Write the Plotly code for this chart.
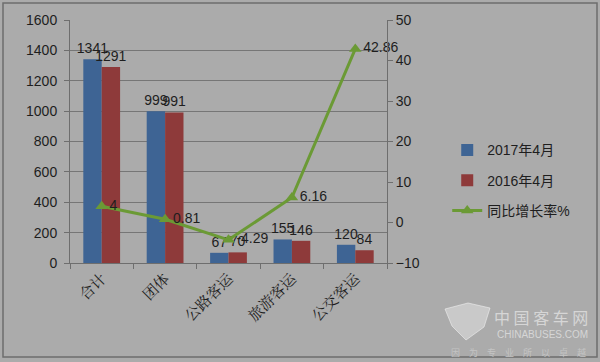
import plotly.graph_objects as go

categories = ["合计", "团体", "公路客运", "旅游客运", "公交客运"]
sales_2017 = [1341, 999, 67, 155, 120]
sales_2016 = [1291, 991, 70, 146, 84]
growth = [4, 0.81, -4.29, 6.16, 42.86]
growth_labels = ["4", "0.81", "-4.29", "6.16", "42.86"]

BG = "#ababab"
TXT = "#1e1e1e"
FONT = "Liberation Sans, Noto Sans CJK SC, sans-serif"

fig = go.Figure()
fig.add_trace(go.Bar(
    x=categories, y=sales_2017, name="2017年4月", legendgroup="a",
    marker=dict(color="#3e6494", line=dict(width=0)),
    text=[str(v) for v in sales_2017], textposition="outside",
    textfont=dict(size=14, color=TXT), constraintext="none", cliponaxis=False,
))
fig.add_trace(go.Bar(
    x=categories, y=sales_2016, name="2016年4月", legendgroup="b",
    marker=dict(color="#8e3a3a", line=dict(width=0)),
    text=[str(v) for v in sales_2016], textposition="outside",
    textfont=dict(size=14, color=TXT), constraintext="none", cliponaxis=False,
))
fig.add_trace(go.Scatter(
    x=categories, y=growth, name="同比增长率%", yaxis="y2", legendgroup="c",
    mode="lines+markers+text",
    line=dict(color="#6b9a35", width=3),
    marker=dict(symbol="triangle-up", size=11, color="#6b9a35"),
    text=growth_labels, textposition="middle right",
    textfont=dict(size=14, color=TXT), cliponaxis=False,
))

PX0, PW, PY0, PH = 70, 317, 263, 243
def px(x):
    return (x - PX0) / PW
def py(y):
    return (PY0 - y) / PH

# outer frame
fig.add_shape(type="rect", xref="paper", yref="paper", x0=px(3), x1=px(597), y0=py(357), y1=py(3),
              line=dict(color="#6e6e6e", width=1.5), fillcolor="rgba(0,0,0,0)", layer="below")

# watermark logo (simple cube outline)
pts = [(445, 309), (468, 303), (490, 308), (484, 327), (466, 340), (452, 326)]
path = "M " + " L ".join(f"{px(a)},{py(b)}" for a, b in pts) + " Z"
fig.add_shape(type="path", xref="paper", yref="paper", path=path,
              fillcolor="rgba(225,225,225,0.55)", line=dict(color="rgba(240,240,240,0.6)", width=1))

# watermark text
fig.add_annotation(xref="paper", yref="paper", x=px(541), y=py(317), xanchor="center", yanchor="middle",
                   text="中 国 客 车 网", showarrow=False,
                   font=dict(size=16, color="#d6d6d6", family="Noto Sans CJK SC"))
fig.add_annotation(xref="paper", yref="paper", x=px(542), y=py(334), xanchor="center", yanchor="middle",
                   text="CHINABUSES.COM", showarrow=False,
                   font=dict(size=10, color="#d6d6d6", family=FONT))
fig.add_annotation(xref="paper", yref="paper", x=px(518), y=py(352), xanchor="center", yanchor="middle",
                   text="因　为　专　业　所　以　卓　越", showarrow=False,
                   font=dict(size=9, color="#c4c4c4", family="Noto Sans CJK SC"))

fig.update_layout(
    width=600, height=362,
    margin=dict(l=70, r=213, t=20, b=99),
    paper_bgcolor=BG, plot_bgcolor=BG,
    font=dict(family=FONT, size=14, color=TXT),
    barmode="group", bargap=0.42, bargroupgap=0,
    showlegend=True,
    legend=dict(x=1.19, y=0.34, xanchor="left", yanchor="middle",
                bgcolor="rgba(0,0,0,0)", font=dict(size=14, color=TXT),
                traceorder="grouped", itemwidth=30, tracegroupgap=9),
    xaxis=dict(
        type="category", showline=True, linecolor="#6e6e6e", linewidth=1,
        ticks="outside", ticklen=5, tickcolor="#6e6e6e", tickson="boundaries",
        tickangle=-45, showgrid=False,
        tickfont=dict(size=15, family="Noto Serif CJK SC, Noto Sans CJK SC, serif", color=TXT),
    ),
    yaxis=dict(
        range=[0, 1600], dtick=200, showgrid=True, gridcolor="#767676", gridwidth=1,
        showline=True, linecolor="#6e6e6e", ticks="outside", ticklen=5, tickcolor="#6e6e6e",
        zeroline=False, tickfont=dict(size=14, color=TXT), ticklabelstandoff=4,
    ),
    yaxis2=dict(
        range=[-10, 50], dtick=10, overlaying="y", side="right", showgrid=False,
        showline=True, linecolor="#6e6e6e", ticks="outside", ticklen=5, tickcolor="#6e6e6e",
        zeroline=False, tickfont=dict(size=14, color=TXT),
    ),
)

fig.write_html("out.html")
